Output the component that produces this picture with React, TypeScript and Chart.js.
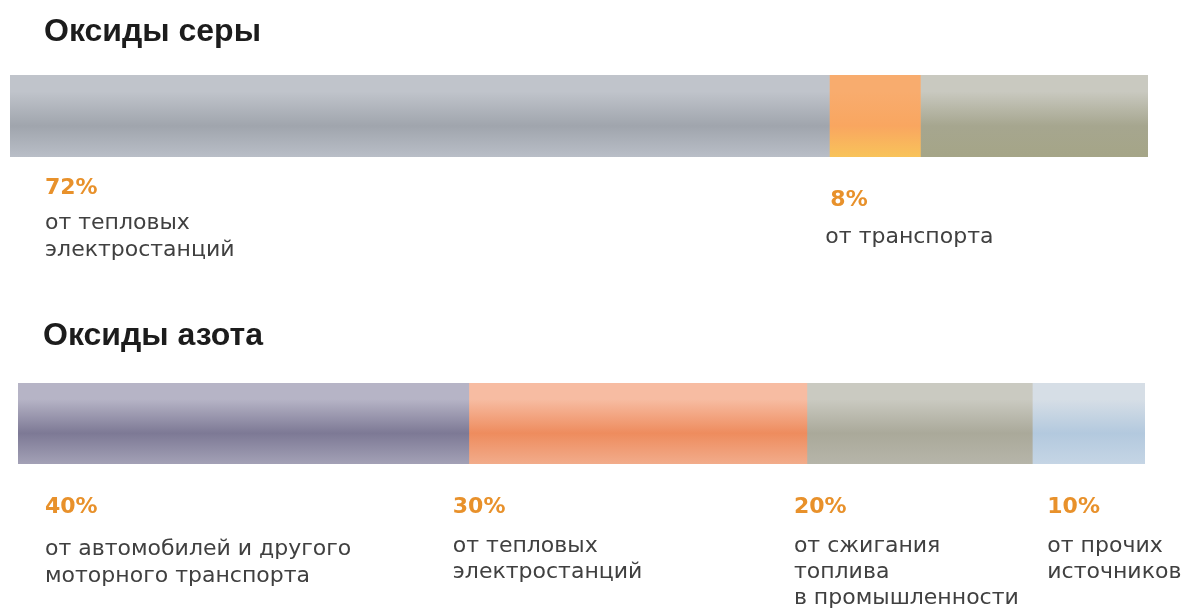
import React, { useEffect, useRef } from 'react';
import { Chart, registerables } from 'chart.js';

Chart.register(...registerables);

// ---------- DATA ----------
const sulfurTitle = 'Оксиды серы';
const sulfurSources = ['тепловые электростанции', 'транспорт', 'прочие источники'];
const sulfurValues = [72, 8, 20];
const sulfurCaptions = [['от тепловых', 'электростанций'], ['от транспорта'], []];
const sulfurShowPercent = [true, true, false];

const nitrogenTitle = 'Оксиды азота';
const nitrogenSources = ['автомобили и моторный транспорт', 'тепловые электростанции', 'сжигание топлива в промышленности', 'прочие источники'];
const nitrogenValues = [40, 30, 20, 10];
const nitrogenCaptions = [
  ['от автомобилей и другого', 'моторного транспорта'],
  ['от тепловых', 'электростанций'],
  ['от сжигания', 'топлива', 'в промышленности'],
  ['от прочих', 'источников'],
];
const nitrogenShowPercent = [true, true, true, true];

// ---------- STYLES (top, middle, bottom of the vertical gradient) ----------
const sulfurGradients = [
  ['#c0c4cb', '#a0a5ad', '#b9bec7'],
  ['#f8ac6e', '#f9a660', '#f8c35a'],
  ['#c9c9c0', '#a6a68f', '#a5a587'],
];
const nitrogenGradients = [
  ['#b6b4c6', '#7d7995', '#a3a1b6'],
  ['#f7bca2', '#ee8c5e', '#f2ac8b'],
  ['#cacac1', '#aaa99a', '#b6b5a9'],
  ['#d6dee6', '#b3c9de', '#c5d5e5'],
];

const PCT_COLOR = '#e8912b';
const TEXT_COLOR = '#404040';
const TITLE_COLOR = '#1c1c1c';

interface LabelLayout { dx: number; pctY: number; lineDx: number; lineY: number; step: number }
interface Layout {
  top: number; height: number; padLeft: number; padRight: number; barTop: number; barBottom: number;
  titleX: number; titleY: number; labels: LabelLayout[];
}

const sulfurLayout: Layout = {
  top: 0, height: 300, padLeft: 10, padRight: 39, barTop: 75, barBottom: 157,
  titleX: 44, titleY: 32,
  labels: [
    { dx: 35, pctY: 188, lineDx: 35, lineY: 223, step: 27 },
    { dx: 1, pctY: 200, lineDx: -4, lineY: 237, step: 27 },
    { dx: 0, pctY: 0, lineDx: 0, lineY: 0, step: 0 },
  ],
};
const nitrogenLayout: Layout = {
  top: 300, height: 311, padLeft: 18, padRight: 42, barTop: 83, barBottom: 164,
  titleX: 43, titleY: 36,
  labels: [
    { dx: 27, pctY: 207, lineDx: 27, lineY: 249, step: 27 },
    { dx: -16, pctY: 207, lineDx: -16, lineY: 246, step: 26 },
    { dx: -13, pctY: 207, lineDx: -13, lineY: 246, step: 26 },
    { dx: 15, pctY: 207, lineDx: 15, lineY: 246, step: 26 },
  ],
};

const labelPlugin = {
  id: 'segLabels',
  afterDatasetsDraw(chart: any, _args: any, opts: any) {
    const ctx = chart.ctx as CanvasRenderingContext2D;
    ctx.save();
    ctx.textBaseline = 'middle';
    ctx.textAlign = 'left';
    ctx.fillStyle = TITLE_COLOR;
    ctx.font = 'bold 32px "Liberation Sans", Arial, sans-serif';
    ctx.fillText(opts.title, opts.layout.titleX, opts.layout.titleY);
    chart.data.datasets.forEach((ds: any, i: number) => {
      const el = chart.getDatasetMeta(i).data[0];
      if (!el) return;
      const start = Math.min(el.base, el.x);
      const lay: LabelLayout = opts.layout.labels[i];
      if (opts.showPercent[i]) {
        ctx.fillStyle = PCT_COLOR;
        ctx.font = 'bold 22px "DejaVu Sans", sans-serif';
        ctx.fillText(ds.data[0] + '%', start + lay.dx, lay.pctY);
      }
      ctx.fillStyle = TEXT_COLOR;
      ctx.font = '22px "DejaVu Sans", sans-serif';
      (opts.captions[i] || []).forEach((line: string, k: number) => {
        ctx.fillText(line, start + lay.lineDx, lay.lineY + k * lay.step);
      });
    });
    ctx.restore();
  },
};

function BarChart(props: {
  title: string; sources: string[]; values: number[]; captions: string[][];
  showPercent: boolean[]; gradients: string[][]; layout: Layout;
}) {
  const ref = useRef<HTMLCanvasElement>(null);
  useEffect(() => {
    const { title, sources, values, captions, showPercent, gradients, layout } = props;
    const chart = new Chart(ref.current!, {
      type: 'bar',
      data: {
        labels: [title],
        datasets: values.map((v, i) => ({
          label: sources[i],
          data: [v],
          borderWidth: 0,
          barPercentage: 1,
          categoryPercentage: 1,
          backgroundColor: (c: any) => {
            const ca = c.chart.chartArea;
            const g = gradients[i];
            if (!ca) return g[1];
            const grad = c.chart.ctx.createLinearGradient(0, ca.top, 0, ca.bottom);
            grad.addColorStop(0, g[0]);
            grad.addColorStop(0.2, g[0]);
            grad.addColorStop(0.62, g[1]);
            grad.addColorStop(1, g[2]);
            return grad;
          },
        })),
      },
      options: {
        indexAxis: 'y',
        responsive: false,
        animation: false,
        layout: {
          padding: {
            left: layout.padLeft,
            right: layout.padRight,
            top: layout.barTop,
            bottom: layout.height - layout.barBottom,
          },
        },
        scales: {
          x: { stacked: true, min: 0, max: 100, display: false },
          y: { stacked: true, display: false },
        },
        plugins: {
          legend: { display: false },
          tooltip: { enabled: false },
          segLabels: { title, captions, showPercent, layout },
        } as any,
      },
      plugins: [labelPlugin],
    });
    return () => chart.destroy();
  }, []);
  return (
    <canvas
      ref={ref}
      width={1187}
      height={props.layout.height}
      style={{ position: 'absolute', left: 0, top: props.layout.top, width: 1187, height: props.layout.height }}
    />
  );
}

export default function App() {
  return (
    <div style={{ position: 'fixed', left: 0, top: 0, width: 1187, height: 611, background: '#ffffff', overflow: 'hidden' }}>
      <BarChart title={sulfurTitle} sources={sulfurSources} values={sulfurValues} captions={sulfurCaptions}
        showPercent={sulfurShowPercent} gradients={sulfurGradients} layout={sulfurLayout} />
      <BarChart title={nitrogenTitle} sources={nitrogenSources} values={nitrogenValues} captions={nitrogenCaptions}
        showPercent={nitrogenShowPercent} gradients={nitrogenGradients} layout={nitrogenLayout} />
    </div>
  );
}
